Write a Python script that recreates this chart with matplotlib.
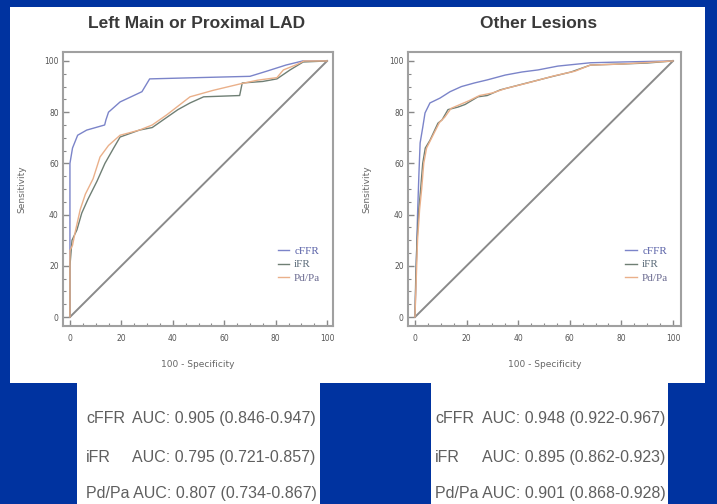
import matplotlib
matplotlib.use("Agg")
import matplotlib.pyplot as plt
from matplotlib.patches import Rectangle
from matplotlib.ticker import MultipleLocator

# ---- data ----
titles = ["Left Main or Proximal LAD", "Other Lesions"]
series_names = ["cFFR", "iFR", "Pd/Pa"]

# Left Main or Proximal LAD
lm_cffr_x = [0, 0, 0, 1, 3, 6.5, 13.5, 14, 15, 19.5, 28, 31, 50, 70, 76.5, 84, 90.5, 100]
lm_cffr_y = [0, 30, 60, 66, 71, 73, 75, 77, 80, 84, 88, 93, 93.5, 94, 96, 98.4, 100, 100]
lm_ifr_x = [0, 0, 0.8, 2.7, 4.6, 7, 10.5, 13.6, 17, 19.5, 27, 32, 37.7, 42, 46.7, 52, 66, 67, 75, 80.5, 85.6, 90.7, 100]
lm_ifr_y = [0, 20, 30, 34, 40.6, 46, 53, 60, 66, 70.3, 73, 74, 78, 81, 83.6, 86, 86.5, 91.4, 92, 93, 96.5, 99.6, 100]
lm_pdpa_x = [0, 0, 1, 2, 4, 6, 9, 11.7, 15, 19.5, 27, 32, 37.7, 46.7, 55.6, 66, 73, 80.5, 83, 88, 91, 100]
lm_pdpa_y = [0, 26, 28, 33, 42, 48, 54, 62.5, 67, 71, 73, 75, 79, 86, 88.5, 91, 92.5, 93.5, 96.5, 98.5, 100, 100]

# Other Lesions
ol_cffr_x = [0, 0.5, 1, 1.5, 2, 3, 3.9, 5.8, 9.7, 13.6, 18, 23, 28, 35, 41.5, 47.7, 55.4, 68, 80, 100]
ol_cffr_y = [0, 20, 40, 55, 68, 74, 79.7, 83.6, 85.5, 88, 90, 91.4, 92.6, 94.5, 95.7, 96.5, 98, 99.3, 99.6, 100]
ol_ifr_x = [0, 0.3, 0.8, 1.5, 2.2, 3, 4, 5.8, 8.9, 10.5, 12.8, 16.7, 19.4, 24.4, 28, 33, 42.6, 52.7, 60.5, 68, 80, 90, 100]
ol_ifr_y = [0, 15, 30, 42, 50, 60, 66, 69, 75.7, 77, 81, 82, 83, 86, 86.5, 88.7, 91.2, 93.8, 95.7, 98.4, 98.8, 99.2, 100]
ol_pdpa_x = [0, 0.5, 1, 1.8, 2.6, 3.4, 4.5, 6.5, 9.5, 11.5, 14, 17.5, 21, 25, 30, 35, 44, 54, 62, 68, 80, 90, 100]
ol_pdpa_y = [0, 15, 30, 42, 50, 60, 66, 70, 76, 78, 81.5, 83, 84.5, 86.5, 87.5, 89.2, 91.5, 94.2, 96, 98.4, 98.8, 99.4, 100]

auc_left = ["AUC: 0.905 (0.846-0.947)", "AUC: 0.795 (0.721-0.857)", "AUC: 0.807 (0.734-0.867)"]
auc_right = ["AUC: 0.948 (0.922-0.967)", "AUC: 0.895 (0.862-0.923)", "AUC: 0.901 (0.868-0.928)"]

colors = ["#7b84c9", "#6f7f74", "#eab08a"]
legend_text_colors = ["#5a62a8", "#5a6a78", "#6a6a90"]

W, H = 717, 504
fig = plt.figure(figsize=(W / 100, H / 100), dpi=100)
fig.patch.set_facecolor("#0033a0")


def box(x0, y0, x1, y1):
    fig.patches.append(Rectangle((x0 / W, 1 - y1 / H), (x1 - x0) / W, (y1 - y0) / H,
                                 transform=fig.transFigure, facecolor="white",
                                 edgecolor="none", zorder=-5))


box(10, 7, 705, 383)
box(77, 383, 320, 504)
box(431, 383, 668, 504)

panels = [
    ((63, 52, 333, 326), (-2.7, 102.3), [(lm_cffr_x, lm_cffr_y), (lm_ifr_x, lm_ifr_y), (lm_pdpa_x, lm_pdpa_y)]),
    ((408, 52, 681, 326), (-2.7, 103.1), [(ol_cffr_x, ol_cffr_y), (ol_ifr_x, ol_ifr_y), (ol_pdpa_x, ol_pdpa_y)]),
]

for (x0, y0, x1, y1), xlim, curves in panels:
    ax = fig.add_axes([x0 / W, 1 - y1 / H, (x1 - x0) / W, (y1 - y0) / H])
    ax.set_facecolor("none")
    ax.plot([0, 100], [0, 100], color="#8a8a8a", lw=1.4)
    handles = []
    for (cx, cy), c in zip(curves, colors):
        h, = ax.plot(cx, cy, color=c, lw=1.0)
        handles.append(h)
    ax.set_xlim(*xlim)
    ax.set_ylim(-3.5, 103.5)
    ax.xaxis.set_major_locator(MultipleLocator(20))
    ax.yaxis.set_major_locator(MultipleLocator(20))
    ax.xaxis.set_minor_locator(MultipleLocator(5))
    ax.yaxis.set_minor_locator(MultipleLocator(5))
    ax.tick_params(which="major", direction="in", length=4, width=1, color="#888888",
                   labelsize=5.5, labelcolor="#555555")
    ax.tick_params(axis="x", which="major", pad=6)
    ax.tick_params(axis="y", which="major", pad=3)
    ax.tick_params(which="minor", direction="in", length=2, width=0.8, color="#888888")
    for s in ax.spines.values():
        s.set_color("#a0a0a0")
        s.set_linewidth(1.5)
    ax.set_xlabel("100 - Specificity", fontsize=6.5, color="#666666", labelpad=12)
    ax.set_ylabel("Sensitivity", fontsize=6.5, color="#666666", labelpad=13)
    leg = ax.legend(handles, series_names, loc="lower right", bbox_to_anchor=(0.99, 0.12),
                    frameon=False, prop={"family": "Liberation Serif", "size": 8},
                    handlelength=1.0, handletextpad=0.5, labelspacing=0.35)
    for t, c in zip(leg.get_texts(), legend_text_colors):
        t.set_color(c)

fig.text(197 / W, 1 - 24 / H, titles[0], ha="center", va="center", fontsize=12.5,
         fontweight="bold", color="#3a3a3a", family="Liberation Sans")
fig.text(539 / W, 1 - 24 / H, titles[1], ha="center", va="center", fontsize=12.5,
         fontweight="bold", color="#3a3a3a", family="Liberation Sans")

rows_y = [423, 462, 498]
for base_x, auc_x, aucs in [(86, 132, auc_left), (435, 482, auc_right)]:
    for i, (name, txt, ry) in enumerate(zip(series_names, aucs, rows_y)):
        kw = dict(va="baseline", ha="left", fontsize=11.5, color="#5f5f5f", family="Liberation Sans")
        if i < 2:
            fig.text(base_x / W, 1 - ry / H, name, **kw)
            fig.text(auc_x / W, 1 - ry / H, txt, **kw)
        else:
            fig.text(base_x / W, 1 - ry / H, name + " " + txt, **kw)

fig.savefig("out.png", dpi=100, facecolor=fig.get_facecolor())
